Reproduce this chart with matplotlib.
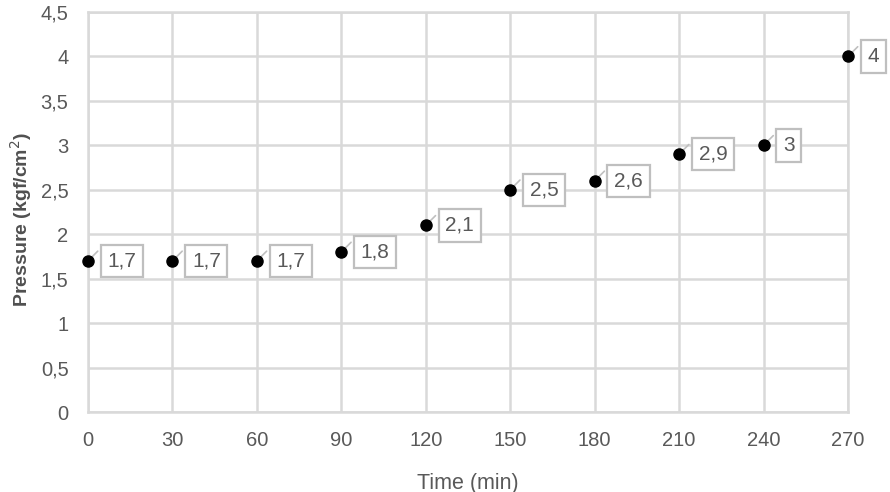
import matplotlib.pyplot as plt
from matplotlib.ticker import FuncFormatter

plt.rcParams['font.family'] = ['Liberation Sans', 'DejaVu Sans']

# data
time_min = [0, 30, 60, 90, 120, 150, 180, 210, 240, 270]
pressure = [1.7, 1.7, 1.7, 1.8, 2.1, 2.5, 2.6, 2.9, 3.0, 4.0]
x_ticks = [0, 30, 60, 90, 120, 150, 180, 210, 240, 270]
y_ticks = [0, 0.5, 1, 1.5, 2, 2.5, 3, 3.5, 4, 4.5]

GRID = '#d9d9d9'
TEXT = '#595959'


def comma(v, pos=None):
    s = f'{v:g}'
    return s.replace('.', ',')


fig = plt.figure(figsize=(8.9, 4.92), dpi=100)
ax = fig.add_axes([0.0989, 0.1626, 0.8539, 0.813])

ax.set_xlim(0, 270)
ax.set_ylim(0, 4.5)
ax.set_xticks(x_ticks)
ax.set_yticks(y_ticks)
ax.yaxis.set_major_formatter(FuncFormatter(comma))
ax.grid(True, color=GRID, linewidth=1.8)
ax.set_axisbelow(True)
for sp in ax.spines.values():
    sp.set_color(GRID)
    sp.set_linewidth(1.8)
ax.tick_params(length=0, labelsize=14.5, colors=TEXT, pad=14)
ax.tick_params(axis='y', pad=14)

ax.plot(time_min, pressure, 'o', color='black', markersize=8, clip_on=False, zorder=5)

for x, y in zip(time_min, pressure):
    # short leader line
    ax.annotate('', xy=(x, y), xytext=(7, 7), textcoords='offset points',
                arrowprops=dict(arrowstyle='-', color='#bfbfbf', lw=1.2, shrinkA=0, shrinkB=3),
                annotation_clip=False)
    ax.annotate(comma(y), xy=(x, y), xytext=(14, 0), textcoords='offset points',
                ha='left', va='center', fontsize=15, color=TEXT,
                bbox=dict(boxstyle='square,pad=0.32', fc='white', ec='#bfbfbf', lw=1.6),
                annotation_clip=False, zorder=6)

ax.set_xlabel('Time (min)', fontsize=15.5, color=TEXT, labelpad=16)
fig.text(0.024, 0.555, 'Pressure (kgf/cm$^2$)', rotation=90, ha='center', va='center',
         fontsize=14, color='#505050', fontweight='bold')

fig.savefig('out.png', dpi=100)
